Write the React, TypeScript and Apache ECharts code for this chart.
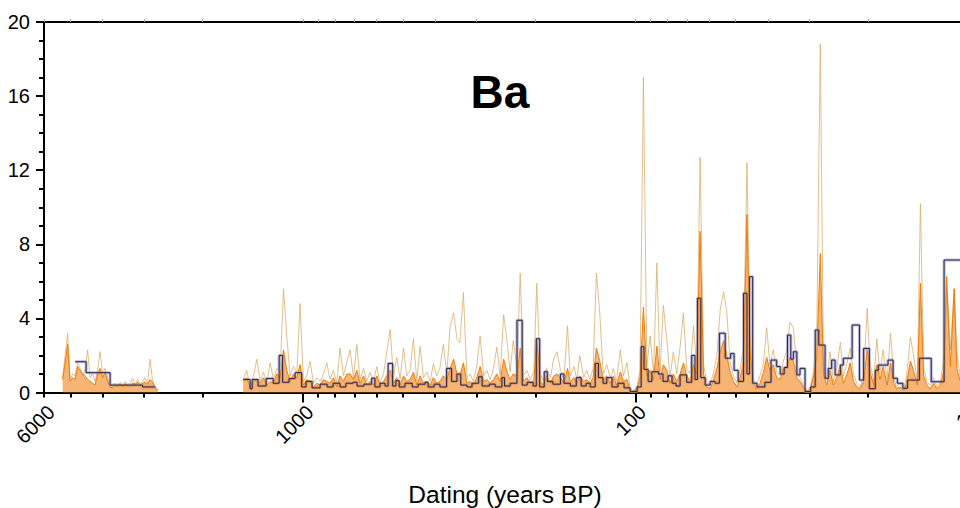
import React, { useEffect, useRef } from "react";
import * as echarts from "echarts";

// Sample ages (years BP) — left cluster, gap marker, right cluster
const ages = [
  5274, 5184, 5095, 5008, 4922, 4837, 4754, 4673, 4593, 4514,
  4437, 4361, 4286, 4212, 4140, 4069, 3999, 3931, 3863, 3797,
  3732, 3668, 3605, 3543, 3482, 3422, 3364, 3306, 3249, 3193,
  3138, 3085, 3032, 2980, 2929, 2878, 2829, 2781, 2733,
  2000,
  1511, 1475,
  1440, 1407, 1375,
  1344, 1313, 1283,
  1254, 1225, 1197,
  1170, 1143, 1117,
  1092, 1067, 1042,
  1019, 996, 973,
  951, 929, 908,
  887, 867, 847,
  828, 809, 790,
  773, 755, 738,
  721, 704, 688,
  673, 657, 642,
  628, 613, 599,
  586, 572, 559,
  546, 534, 522,
  510, 498, 487,
  476, 465, 454,
  444, 434, 424,
  414, 405, 396,
  387, 378, 369,
  361, 352, 344,
  337, 329, 321,
  314, 307, 300,
  293, 286, 280,
  273, 267, 261,
  255, 249, 243,
  238, 233, 227,
  222, 217, 212,
  207, 202, 198,
  193, 189, 185,
  180, 176, 172,
  168, 164, 160,
  157, 153, 150,
  147, 143, 140,
  137, 134, 131,
  128, 125, 122,
  119, 116.5, 114,
  111, 108.7, 106,
  103.7, 101.3, 99,
  96.8, 94.6, 92.4,
  90.3, 88.2, 86.2,
  84.3, 82.4, 80.5,
  78.7, 76.9, 75.1,
  73.4, 71.7, 70.1,
  68.5, 66.9, 65.4,
  63.9, 62.4, 61.0,
  59.6, 58.2, 56.9,
  55.6, 54.3, 53.1,
  51.9, 50.7, 49.5,
  48.4, 47.3, 46.2,
  45.2, 44.2, 43.2,
  42.2, 41.2, 40.3,
  39.4, 38.5, 37.6,
  36.7, 35.9, 35.1,
  34.3, 33.5, 32.7,
  32.0, 31.3, 30.5,
  29.8, 29.1, 28.5,
  27.8, 27.2, 26.6,
  26.0, 25.4, 24.8,
  24.2, 23.7, 23.1,
  22.6, 22.1, 21.6,
  21.1, 20.6, 20.1,
  19.7, 19.2, 18.8,
  18.4, 18.0, 17.5,
  17.1, 16.7, 16.4,
  16.0, 15.6, 15.3,
  14.9, 14.6, 14.2,
  13.9, 13.6, 13.3,
  13.0, 12.7, 12.4,
  12.1, 11.8, 11.6,
  11.3, 11.0, 10.8,
  10.55, 10.3,
];

// High-resolution Ba record (light tan)
const tanBa = [
  0.8, 2.0, 3.2, 0.7, 1.0, 0.9, 1.6, 1.3, 0.9, 1.2,
  2.3, 0.8, 1.0, 0.6, 1.2, 2.2, 1.0, 1.3, 0.8, 0.4,
  0.3, 0.5, 0.35, 0.55, 0.3, 0.6, 0.4, 0.5, 0.75, 0.4,
  0.7, 0.45, 0.6, 0.8, 0.5, 1.8, 0.6, 0.3, 0.1,
  null,
  0.7, 1.2,
  0.3, 0.9, 1.8,
  0.6, 1.1, 0.5,
  1.6, 0.7, 1.3,
  1.1, 5.6, 3.0,
  0.9, 1.4, 1.1,
  4.8, 0.6, 0.9,
  1.7, 0.5, 0.8,
  0.6, 1.0, 1.6,
  0.7, 1.2, 0.5,
  2.4, 0.9, 1.6,
  2.3, 0.8, 2.6,
  0.7, 1.3, 0.6,
  1.1, 0.6, 1.4,
  0.5, 1.0, 2.2,
  3.4, 0.8, 1.9,
  0.7, 2.4, 0.9,
  1.2, 2.9, 0.6,
  2.5, 0.8, 1.1,
  0.6, 1.55, 0.9,
  1.3, 2.6, 1.0,
  3.5, 4.3, 2.9,
  2.7, 5.4, 0.8,
  1.0, 0.6, 1.4,
  3.05, 0.9, 1.2,
  0.7, 1.3, 2.45,
  0.9, 4.2, 2.7,
  1.1, 2.8, 1.3,
  6.45, 0.9, 1.2,
  0.7, 1.1, 5.9,
  1.0, 0.6, 1.3,
  0.8, 1.85, 2.2,
  1.2, 0.7, 3.6,
  0.9, 1.4, 0.7,
  2.0, 0.8, 1.2,
  0.7, 1.3, 6.45,
  4.3, 1.0, 1.5,
  0.8, 1.3, 0.6,
  2.3, 0.9, 1.6,
  0.2, 0.1, 0.3,
  1.2, 17.0, 1.4,
  3.05, 1.0, 7.0,
  1.1, 4.7, 2.9,
  0.8, 2.2, 1.0,
  2.45, 4.3, 1.3,
  1.0, 3.6, 1.4,
  12.7, 1.5, 0.6,
  0.4, 1.1, 2.0,
  4.45, 5.45, 4.3,
  1.6, 0.9, 0.5,
  1.3, 2.5, 12.4,
  3.0, 0.7, 0.4,
  0.9, 1.6, 3.5,
  1.5, 2.3, 1.1,
  0.9, 1.7, 2.2,
  3.8, 3.5, 1.2,
  0.8, 0.4, 0.1,
  0.3, 1.2, 2.9,
  18.8, 1.5, 0.7,
  2.2, 0.6, 1.3,
  2.7, 0.9, 1.6,
  2.4, 1.0, 0.5,
  0.3, 0.9, 4.55,
  1.6, 0.6, 2.9,
  1.0, 2.3, 0.7,
  3.2, 0.8, 0.3,
  0.5, 0.2, 0.9,
  3.0, 2.1, 0.6,
  10.2, 1.4, 0.6,
  0.4, 0.8, 0.3,
  0.6, 1.9, 6.25,
  2.3, 5.6, 2.1,
  0.9, 0.7,
];

// Medium-resolution Ba record (orange)
const orangeBa = [
  0.7, 1.6, 2.6, 0.6, 0.8, 0.7, 1.4, 1.2, 1.0, 0.9,
  0.7, 0.6, 0.5, 0.4, 1.0, 1.3, 0.8, 1.1, 0.6, 0.3,
  0.25, 0.4, 0.3, 0.45, 0.35, 0.45, 0.4, 0.35, 0.5, 0.45,
  0.55, 0.4, 0.5, 0.55, 0.45, 0.7, 0.55, 0.3, 0.1,
  null,
  0.6, 0.8,
  0.3, 0.6, 0.7,
  0.5, 0.8, 0.4,
  0.6, 0.5, 1.0,
  0.8, 2.3, 1.2,
  0.6, 1.0, 0.8,
  1.5, 0.4, 0.7,
  0.6, 0.3, 0.5,
  0.4, 0.7, 0.6,
  0.5, 0.8, 0.3,
  0.9, 0.6, 1.0,
  1.0, 0.7, 1.2,
  0.5, 0.9, 0.4,
  0.6, 0.4, 0.9,
  0.4, 0.6, 0.9,
  1.2, 0.5, 0.8,
  0.4, 0.9, 0.6,
  0.7, 1.1, 0.4,
  0.9, 0.5, 0.6,
  0.4, 0.8, 0.5,
  0.6, 0.9, 0.7,
  1.3, 1.8, 1.0,
  0.9, 1.6, 0.5,
  0.6, 0.4, 0.8,
  1.4, 0.6, 0.7,
  0.5, 0.7, 1.0,
  0.6, 1.8, 1.1,
  0.7, 1.0, 0.9,
  2.4, 0.6, 0.8,
  0.5, 0.7, 2.9,
  0.6, 0.4, 0.9,
  0.5, 0.9, 1.0,
  0.8, 0.5, 1.3,
  0.6, 0.8, 0.5,
  0.9, 0.6, 0.7,
  0.5, 0.8, 2.4,
  1.7, 0.7, 0.9,
  0.5, 0.9, 0.4,
  1.1, 0.6, 0.7,
  0.1, 0.05, 0.2,
  0.8, 4.6, 0.9,
  1.2, 0.7, 2.5,
  0.7, 1.5, 1.2,
  0.5, 1.0, 0.6,
  1.0, 1.6, 0.9,
  0.6, 1.5, 1.0,
  8.7, 1.0, 0.3,
  0.2, 0.7, 1.3,
  2.2, 2.8, 2.0,
  1.1, 0.6, 0.3,
  0.8, 1.7, 9.6,
  2.2, 0.5, 0.2,
  0.5, 1.1, 1.9,
  1.2, 1.5, 0.8,
  0.7, 1.3, 1.4,
  1.9, 1.7, 0.8,
  0.6, 0.3, 0.05,
  0.2, 0.9, 2.0,
  7.5, 1.0, 0.4,
  1.2, 0.4, 0.8,
  1.5, 0.5, 1.0,
  1.6, 0.6, 0.3,
  0.2, 0.6, 2.3,
  1.1, 0.4, 1.5,
  0.7, 1.4, 0.4,
  1.6, 0.5, 0.2,
  0.3, 0.1, 0.5,
  1.7, 1.2, 0.4,
  5.9, 0.9, 0.4,
  0.2, 0.5, 0.2,
  0.4, 1.2, 6.25,
  1.4, 5.6, 1.3,
  0.6, 0.5,
];

// Low-resolution (stepped) Ba record: segment start ages and values
const stepAges = [
  4837, 4483, 3797, 3032, 2781,
  2781,
  1511, 1440, 1420, 1363, 1289, 1228, 1178, 1150, 1100, 1055,
  1008, 978, 938, 887, 845, 811, 773, 742, 706, 687,
  655, 621, 607, 586, 566, 554, 537, 525, 513, 493,
  469, 450, 429, 420, 403, 387, 369.5, 357, 344, 335,
  321, 310, 296, 289, 275, 264, 252, 247.5, 238, 227,
  219, 211.5, 203, 198.6, 194, 188, 184, 177, 168, 164,
  157, 150.6, 145.6, 140.6, 136.8, 132.1, 129.2, 125.1, 121.9, 117.6,
  112.8, 108.2, 103.7, 98.8, 96.1, 94.2, 91.6, 89.2, 85.3, 82.6,
  79.8, 77.6, 75.5, 73.4, 70.1, 67.7, 66.2, 65.1, 63.6, 61.7,
  59.6, 57.6, 55.9, 53.7, 51.7, 50.5, 49.1, 47.3, 46.2, 45.4,
  44.4, 43.1, 40.8, 39.1, 37.6, 36.7, 35.7, 34.9, 34.1, 33.5,
  32.7, 32.0, 30.9, 29.7, 28.8, 28.1, 26.9, 26.3, 25.7, 25.1,
  24.2, 23.7, 22.3, 21.2, 20.6, 19.8, 19.0, 18.6, 17.4, 16.8,
  16.3, 15.7, 15.2, 14.0, 12.9, 11.8, 10.3,
];
const stepBa = [
  1.66, 1.07, 0.4, 0.3, 0.3,
  null,
  0.7, 0.2, 0.7, 0.35, 0.75, 0.5, 2.0, 0.55, 0.75, 1.07,
  0.3, 0.6, 0.25, 0.45, 0.3, 0.5, 0.3, 0.5, 0.55, 0.35,
  0.45, 0.77, 0.3, 0.5, 0.35, 1.57, 0.35, 0.64, 0.3, 0.5,
  0.3, 0.45, 0.55, 0.3, 0.45, 0.3, 1.3, 0.6, 1.0, 0.4,
  0.3, 0.5, 0.85, 0.35, 0.45, 0.3, 0.8, 0.35, 0.5, 3.9,
  0.4, 0.55, 0.35, 2.9, 0.3, 1.12, 0.6, 0.45, 1.0, 0.5,
  0.35, 0.8, 0.35, 0.5, 0.3, 1.57, 0.8, 0.5, 0.8, 0.3,
  0.5, 0.25, 0.05, 0.3, 2.47, 1.25, 0.6, 1.12, 1.0, 0.6,
  0.9, 0.5, 0.35, 0.95, 0.55, 2.0, 0.7, 5.09, 0.8, 0.4,
  0.6, 0.5, 3.2, 1.85, 2.1, 1.2, 0.6, 5.36, 1.0, 6.25,
  0.5, 0.3, 0.55, 1.75, 1.4, 1.0, 1.35, 3.1, 1.8, 2.2,
  0.95, 1.3, 0.05, 0.3, 3.37, 2.56, 0.77, 1.3, 1.75, 0.95,
  1.48, 1.85, 3.64, 0.67, 2.38, 0.2, 1.2, 1.48, 1.75, 0.77,
  0.5, 0.23, 0.67, 1.85, 0.58, 7.15, 7.15,
];

const labelAges = [6000, 1000, 100, 10];
const majorTickAges = [1000, 100, 10];
const minorTickAges = [6000, 5000, 4000, 3000, 2000, 900, 800, 700, 600, 500, 400, 300, 200, 90, 80, 70, 60, 50, 40, 30, 20];
const allTickAges = [6000, 5000, 4000, 3000, 2000, 1000, 900, 800, 700, 600, 500, 400, 300, 200, 100, 90, 80, 70, 60, 50, 40, 30, 20, 10];

const FONT = '"Liberation Sans", Arial, Helvetica, sans-serif';
const lg = (v: number) => Math.log10(v);

export default function App() {
  const ref = useRef<HTMLDivElement | null>(null);

  useEffect(() => {
    if (!ref.current) return;
    const chart = echarts.init(ref.current, undefined, { renderer: "svg" });

    const pair = (xs: number[], ys: (number | null)[]) =>
      xs.map((a, i) => [lg(a), ys[i] == null ? "-" : ys[i]]);

    const tanData = pair(ages, tanBa);
    const orangeData = pair(ages, orangeBa);
    const stepData = pair(stepAges, stepBa);

    const xMin = 1; // 10 years BP
    const xMax = lg(6000);

    const baseX = {
      type: "value",
      min: xMin,
      max: xMax,
      inverse: true,
      splitLine: { show: false },
    };

    const option: any = {
      animation: false,
      backgroundColor: "#ffffff",
      grid: {
        left: 44,
        right: 0,
        top: 22,
        bottom: 115.5,
        containLabel: false,
        outerBoundsMode: "none",
      },
      xAxis: [
        {
          ...baseX,
          position: "bottom",
          axisLine: { show: true, onZero: false, lineStyle: { color: "#000", width: 2 } },
          axisTick: {
            show: true,
            customValues: majorTickAges.map(lg),
            length: 10,
            lineStyle: { color: "#000", width: 2 },
          },
          axisLabel: {
            show: true,
            customValues: labelAges.map(lg),
            rotate: 45,
            margin: 9,
            fontSize: 20,
            fontFamily: FONT,
            color: "#000",
            verticalAlign: "top",
            formatter: (v: number) => String(Math.round(Math.pow(10, v))),
          },
        },
        {
          ...baseX,
          position: "bottom",
          axisLine: { show: false, onZero: false },
          axisTick: {
            show: true,
            customValues: minorTickAges.map(lg),
            length: 5,
            lineStyle: { color: "#000", width: 2 },
          },
          axisLabel: { show: false },
        },
        {
          ...baseX,
          position: "top",
          axisLine: { show: true, onZero: false, lineStyle: { color: "#000", width: 2 } },
          axisTick: {
            show: true,
            customValues: allTickAges.map(lg),
            length: 3,
            lineStyle: { color: "#aaaaaa", width: 1 },
          },
          axisLabel: { show: false },
        },
      ],
      yAxis: {
        type: "value",
        min: 0,
        max: 20,
        interval: 4,
        axisLine: { show: true, lineStyle: { color: "#000", width: 2 } },
        axisTick: { show: true, length: 8, lineStyle: { color: "#000", width: 2 } },
        minorTick: { show: true, splitNumber: 4, length: 5, lineStyle: { color: "#000", width: 2 } },
        splitLine: { show: false },
        minorSplitLine: { show: false },
        axisLabel: { fontSize: 20, fontFamily: FONT, color: "#000", margin: 14 },
      },
      series: [
        {
          name: "Ba high-res",
          type: "line",
          xAxisIndex: 0,
          data: tanData,
          symbol: "none",
          connectNulls: false,
          lineStyle: { color: "#d8b070", width: 1, opacity: 0.8 },
          z: 1,
        },
        {
          name: "Ba low-res halo",
          type: "line",
          xAxisIndex: 0,
          data: stepData,
          step: "end",
          symbol: "none",
          connectNulls: false,
          lineStyle: { color: "#a09cc8", width: 3, opacity: 0.7 },
          z: 2,
        },
        {
          name: "Ba mid-res",
          type: "line",
          xAxisIndex: 0,
          data: orangeData,
          symbol: "none",
          connectNulls: false,
          lineStyle: { color: "#f07c08", width: 1 },
          areaStyle: { color: "#f08418", opacity: 0.6 },
          z: 3,
        },
        {
          name: "Ba low-res",
          type: "line",
          xAxisIndex: 0,
          data: stepData,
          step: "end",
          symbol: "none",
          connectNulls: false,
          lineStyle: { color: "#262650", width: 1 },
          z: 4,
        },
      ],
      graphic: [
        {
          type: "text",
          x: 500,
          y: 92,
          style: {
            text: "Ba",
            font: `bold 46px ${FONT}`,
            fill: "#000",
            textAlign: "center",
            align: "center",
            textVerticalAlign: "middle",
            verticalAlign: "middle",
          },
        },
        {
          type: "text",
          x: 505,
          y: 494,
          style: {
            text: "Dating (years BP)",
            font: `24.5px ${FONT}`,
            fill: "#000",
            textAlign: "center",
            align: "center",
            textVerticalAlign: "middle",
            verticalAlign: "middle",
          },
        },
      ],
    };

    chart.setOption(option);
    return () => chart.dispose();
  }, []);

  return (
    <div style={{ position: "fixed", left: 0, top: 0, width: 960, height: 508, overflow: "hidden", background: "#fff" }}>
      <div ref={ref} style={{ width: 968, height: 508 }} />
    </div>
  );
}
